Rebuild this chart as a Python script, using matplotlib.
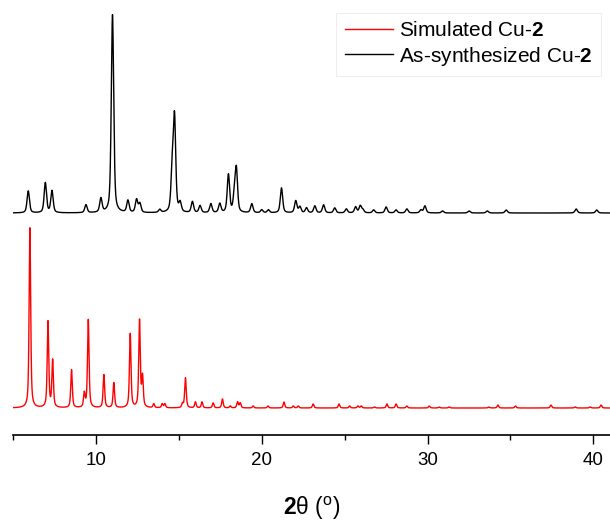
import numpy as np
import matplotlib
matplotlib.use("Agg")
import matplotlib.pyplot as plt
from matplotlib.ticker import MultipleLocator

plt.rcParams['font.family'] = ['Liberation Sans', 'DejaVu Sans']
plt.rcParams['mathtext.fontset'] = 'custom'
plt.rcParams['mathtext.rm'] = 'Liberation Sans'
plt.rcParams['mathtext.bf'] = 'Liberation Sans:bold'

# peak lists: 2theta (deg) and relative intensity
sim_pos = [6.02, 7.11, 7.39, 8.53, 9.30, 9.54, 10.48, 11.08, 12.07, 12.63, 12.81,
           13.49, 14.00, 14.16, 15.22, 15.40, 16.00, 16.40, 17.07, 17.63, 18.10,
           18.54, 18.70, 19.48, 20.38, 21.34, 21.90, 22.20, 23.10, 24.66, 25.30,
           25.80, 26.00, 26.80, 27.55, 28.10, 28.75, 30.10, 30.70, 31.30, 33.70,
           34.24, 35.30, 37.44, 38.90, 39.80, 40.46]
sim_int = [180, 86, 47, 38, 14, 88, 33, 25, 74, 87, 30,
           4, 4, 4, 4, 30, 6, 6, 5, 9, 2,
           6, 5, 2, 2, 6, 2, 2, 4, 4, 2,
           2, 2, 1, 4, 4, 2, 2, 1, 1, 1,
           3, 2, 3, 1, 1, 3]

exp_pos = [5.92, 6.95, 7.35, 9.40, 10.30, 11.00, 11.93, 12.45, 12.65, 13.85,
           14.60, 14.74, 15.08, 15.82, 16.28, 16.93, 17.47, 17.99, 18.35, 18.47,
           19.40, 20.00, 20.40, 21.19, 22.05, 22.30, 22.70, 23.20, 23.73, 24.40,
           25.10, 25.66, 25.94, 26.10, 26.75, 27.50, 28.10, 28.75, 29.60, 29.84,
           30.90, 32.50, 33.60, 34.74, 38.96, 40.20]
exp_int = [22, 30, 22, 8, 14, 198, 12, 13, 9, 3,
           40, 93, 9, 11, 7, 9, 9, 38, 16, 42,
           9, 3, 3, 25, 12, 6, 5, 7, 8, 5,
           4, 6, 7, 3, 3, 6, 3, 4, 3, 7,
           2, 2, 2, 3, 4, 3]

sim_offset = 27
exp_offset = 222


def profile(x, pos, inten, fwhm, eta=0.6):
    # pseudo-Voigt peaks summed on the grid
    y = np.zeros_like(x)
    for p, h in zip(pos, inten):
        d = (x - p) / (fwhm / 2)
        lor = 1 / (1 + d ** 2)
        gau = np.exp(-np.log(2) * d ** 2)
        y += h * (eta * lor + (1 - eta) * gau)
    return y


tt = np.arange(5.0, 41.0, 0.005)
sim = profile(tt, sim_pos, sim_int, 0.11) + sim_offset
exp = profile(tt, exp_pos, exp_int, 0.17, eta=0.5) + exp_offset

fig = plt.figure(figsize=(6.1, 5.29), dpi=100)
ax = fig.add_axes([13 / 610, 94 / 529, 597 / 610, 435 / 529])

ax.plot(tt, sim, color='#ff0000', lw=1.0, label=r'Simulated Cu-$\mathbf{2}$')
ax.plot(tt, exp, color='black', lw=1.0, label=r'As-synthesized Cu-$\mathbf{2}$')

ax.set_xlim(5, 41)
ax.set_ylim(0, 435)
ax.xaxis.set_major_locator(MultipleLocator(10))
ax.xaxis.set_minor_locator(MultipleLocator(5))
ax.tick_params(axis='x', which='major', direction='out', length=6.5, width=1.0,
               labelsize=13.5, pad=6)
ax.tick_params(axis='x', which='minor', direction='out', length=3.5, width=1.0)
ax.set_yticks([])
for s in ['top', 'right', 'left']:
    ax.spines[s].set_visible(False)
ax.spines['bottom'].set_linewidth(1.2)

ax.set_xlabel('$\\mathbf{2}$\u03b8 ($^{\\mathrm{o}}$)', fontsize=16.5, labelpad=18)

leg = ax.legend(loc='upper right', bbox_to_anchor=(0.985, 0.97), borderaxespad=0,
                fontsize=15, handlelength=2.3, handletextpad=0.3, labelspacing=0.2,
                borderpad=0.4, fancybox=False, framealpha=1)
leg.get_frame().set_edgecolor('#eeeeee')
leg.get_frame().set_linewidth(0.8)

fig.savefig('out.png', dpi=100)
